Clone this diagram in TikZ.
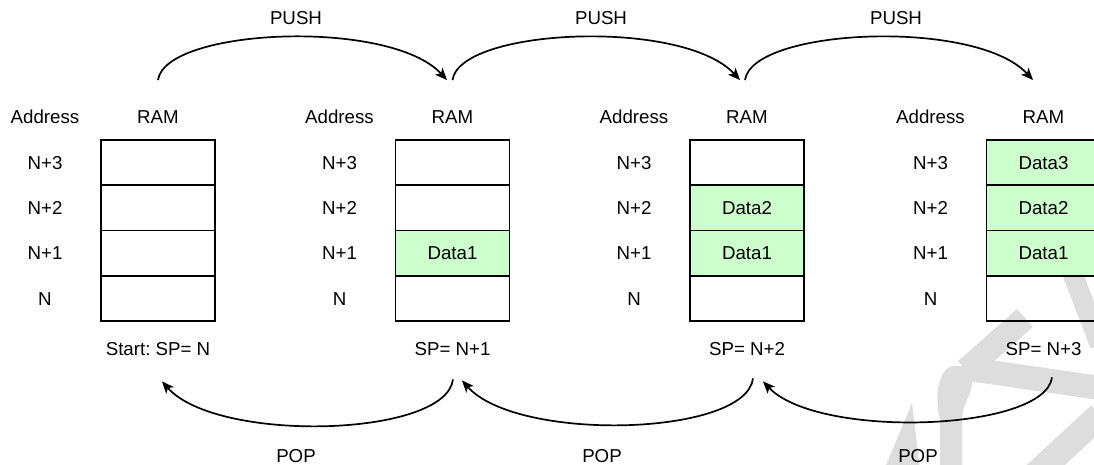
\documentclass[tikz,border=0pt]{standalone}
\usepackage{fontspec}
\setmainfont{Liberation Sans}
\usetikzlibrary{arrows.meta,calc}
\definecolor{datafill}{HTML}{CCFFCC}
\definecolor{wmark}{HTML}{DDDDDD}
\frenchspacing
\begin{document}
\begin{tikzpicture}[x=1pt,y=-1pt,
  txt/.style={font=\fontsize{18.7}{22}\selectfont, inner sep=0pt,
              text height=13.4pt, text depth=0pt},
  cell/.style={txt, draw, line width=1.8pt, minimum width=114pt,
               minimum height=45.25pt},
  full/.style={cell, fill=datafill},
  flow/.style={line width=1.7pt, -{Stealth[length=12pt,width=10pt,inset=3pt]}},
  wm/.style={color=wmark, fill=wmark}
]
\useasboundingbox (0,0) rectangle (1094,465);
\clip (0,0) rectangle (1094,465);

% faint logo in the lower right corner
\draw[wm, line width=24pt] (1025,318) -- (966,370);
\draw[wm, line width=24pt] (962,368) -- (1100,388);
\fill[wm] (944,372) .. controls (952,360) and (975,365) .. (972,385)
  .. controls (970,398) and (962,405) .. (962,420) -- (962,470) -- (940,470)
  -- (940,420) .. controls (936,400) and (936,385) .. (944,372) -- cycle;
\fill[wm] (912,403) -- (884,470) -- (920,470) -- cycle;
\draw[wm, line width=20pt] (1068,262) -- (1100,345);
\draw[wm, line width=26pt] (1100,415) -- (1035,475);

% four snapshots of the stack
\foreach \st/\L/\n in {1/101/0, 2/395.5/1, 3/690/2, 4/986.5/3}{
  \node[txt] (addr\st) at (\L-56,117) {Address};
  \node[txt] (ram\st) at (\L+57,117) {RAM};
  \foreach \rw/\yy in {3/162.625, 2/207.875, 1/253.125, 0/298.375}{
    \ifnum\rw=0
      \node[txt] (a\st-\rw) at (\L-56,\yy) {N};
      \node[cell] (c\st-\rw) at (\L+57,\yy) {};
    \else
      \node[txt] (a\st-\rw) at (\L-56,\yy) {N+\rw};
      \ifnum\rw>\n
        \node[cell] (c\st-\rw) at (\L+57,\yy) {};
      \else
        \node[full] (c\st-\rw) at (\L+57,\yy) {Data\rw};
      \fi
    \fi
  }
}

% stack pointer values
\node[txt] (sp1) at (158,348.5) {Start: SP= N};
\node[txt] (sp2) at (452.5,348.5) {SP= N+1};
\node[txt] (sp3) at (747,348.5) {SP= N+2};
\node[txt] (sp4) at (1043.5,348.5) {SP= N+3};

% operation labels
\node[txt] (push1) at (296,17.5) {PUSH};
\node[txt] (push2) at (601,17.5) {PUSH};
\node[txt] (push3) at (896,17.5) {PUSH};
\node[txt] (pop1) at (296,455.5) {POP};
\node[txt] (pop2) at (602,455.5) {POP};
\node[txt] (pop3) at (918,455.5) {POP};

% arc end points
\coordinate (pu1s) at ($(ram1.north)+(0,-30)$);
\coordinate (pu1e) at ($(ram2.north)+(-5.5,-30)$);
\coordinate (pu2s) at ($(ram2.north)+(0,-30)$);
\coordinate (pu2e) at ($(ram3.north)+(-7,-30)$);
\coordinate (pu3s) at ($(ram3.north)+(-2,-30)$);
\coordinate (pu3e) at ($(ram4.north)+(-10.5,-30)$);
\coordinate (po1s) at ($(sp2.south)+(0.5,24)$);
\coordinate (po1e) at ($(sp1.south)+(4,26)$);
\coordinate (po2s) at ($(sp3.south)+(6,23)$);
\coordinate (po2e) at ($(sp2.south)+(9.5,25)$);
\coordinate (po3s) at ($(sp4.south)+(8.5,22)$);
\coordinate (po3e) at ($(sp3.south)+(16,26)$);

% push arcs
\draw[flow] (pu1s) .. controls +(7,-52) and +(-57,-62) .. (pu1e);
\draw[flow] (pu2s) .. controls +(7,-52) and +(-57,-62) .. (pu2e);
\draw[flow] (pu3s) .. controls +(7,-52) and +(-57,-62) .. (pu3e);

% pop arcs
\draw[flow] (po1s) .. controls +(-7,58) and +(55,62) .. (po1e);
\draw[flow] (po2s) .. controls +(-7,58) and +(55,62) .. (po2e);
\draw[flow] (po3s) .. controls +(-7,54) and +(55,58) .. (po3e);
\end{tikzpicture}
\end{document}
